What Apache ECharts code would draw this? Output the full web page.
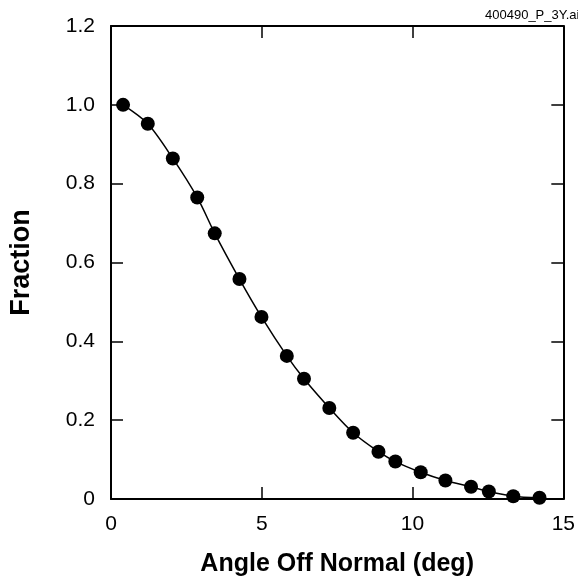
<!DOCTYPE html>
<html>
<head>
<meta charset="utf-8">
<script src="https://cdn.jsdelivr.net/npm/echarts@6/dist/echarts.min.js"></script>
<style>html,body{margin:0;padding:0;background:#fff;}#c{width:578px;height:582px;}</style>
</head>
<body>
<div id="c"></div>
<script>
const angles = [0.40, 1.22, 2.05, 2.86, 3.44, 4.26, 4.99, 5.83, 6.40, 7.24, 8.03, 8.87, 9.43, 10.27, 11.09, 11.94, 12.53, 13.34, 14.21];
const fractions = [1.00, 0.952, 0.864, 0.765, 0.674, 0.558, 0.462, 0.363, 0.305, 0.231, 0.168, 0.120, 0.095, 0.068, 0.047, 0.031, 0.019, 0.007, 0.003];
const xTicks = [0, 5, 10, 15];
const yTicks = [0, 0.2, 0.4, 0.6, 0.8, 1.0, 1.2];
const xTitle = 'Angle Off Normal (deg)';
const yTitle = 'Fraction';
const fileTag = '400490_P_3Y.ai';

const chart = echarts.init(document.getElementById('c'), null, {renderer: 'canvas'});
const font = 'Liberation Sans, Arial, sans-serif';
const lineStyle = {color: '#000', width: 2};
const points = angles.map((a, i) => [a, fractions[i]]);

const baseX = {
  type: 'value', min: xTicks[0], max: xTicks[xTicks.length - 1], interval: 5,
  axisLine: {show: true, onZero: false, lineStyle: lineStyle},
  axisTick: {show: true, inside: true, length: 12, lineStyle: {color: '#000', width: 1.5}},
  splitLine: {show: false}
};
const baseY = {
  type: 'value', min: yTicks[0], max: yTicks[yTicks.length - 1], interval: 0.2,
  axisLine: {show: true, onZero: false, lineStyle: lineStyle},
  axisTick: {show: true, inside: true, length: 12, lineStyle: {color: '#000', width: 1.5}},
  splitLine: {show: false}
};

chart.setOption({
  backgroundColor: '#fff',
  animation: false,
  grid: {left: 110, right: 9, top: 26, bottom: 82},
  graphic: [{
    type: 'text', left: 485, top: 9,
    style: {text: fileTag, font: '13px ' + font, fill: '#000'}
  }],
  xAxis: [
    Object.assign({}, baseX, {
      position: 'bottom',
      axisLabel: {show: true, color: '#000', fontSize: 21, fontFamily: font, margin: 15,
        formatter: v => String(v)},
      name: xTitle, nameLocation: 'middle', nameGap: 53,
      nameTextStyle: {color: '#000', fontSize: 25, fontWeight: 'bold', fontFamily: font}
    }),
    Object.assign({}, baseX, {position: 'top', axisLabel: {show: false}})
  ],
  yAxis: [
    Object.assign({}, baseY, {
      position: 'left',
      axisLabel: {show: true, color: '#000', fontSize: 21, fontFamily: font, margin: 16,
        formatter: v => (v === 0 ? '0' : v.toFixed(1))},
      name: yTitle, nameLocation: 'middle', nameGap: 76, nameRotate: 90,
      nameTextStyle: {color: '#000', fontSize: 27, fontWeight: 'bold', fontFamily: font}
    }),
    Object.assign({}, baseY, {position: 'right', axisLabel: {show: false}})
  ],
  series: [{
    type: 'line',
    data: points,
    smooth: 0.3,
    symbol: 'circle',
    symbolSize: 14,
    itemStyle: {color: '#000'},
    lineStyle: {color: '#000', width: 1.5},
    clip: false
  }]
});
</script>
</body>
</html>
